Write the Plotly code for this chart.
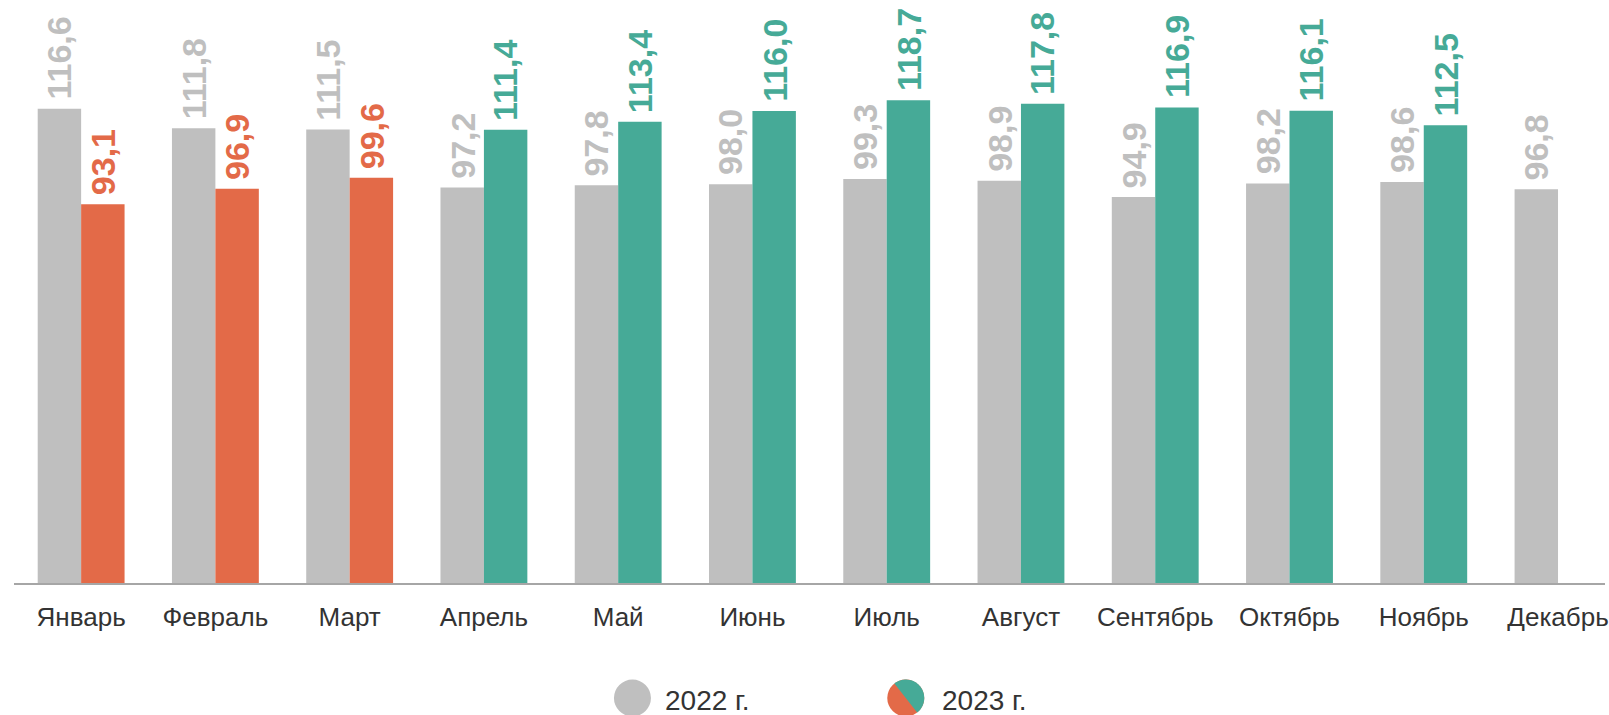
import math
import plotly.graph_objects as go

months = ["Январь", "Февраль", "Март", "Апрель", "Май", "Июнь", "Июль",
          "Август", "Сентябрь", "Октябрь", "Ноябрь", "Декабрь"]
values_2022 = [116.6, 111.8, 111.5, 97.2, 97.8, 98.0, 99.3, 98.9, 94.9, 98.2, 98.6, 96.8]
values_2023 = [93.1, 96.9, 99.6, 111.4, 113.4, 116.0, 118.7, 117.8, 116.9, 116.1, 112.5, None]
series_names = ["2022 г.", "2023 г."]

GRAY = "#BFBFBF"
ORANGE = "#E36A48"
TEAL = "#46AA97"
TEXT = "#333333"
FONT = "Liberation Sans, Arial, sans-serif"

W, H = 1609, 715
ML, MR, MT, MB = 14, 0, 0, 132
PW, PH = W - ML - MR, H - MT - MB
CAT = 134.6  # px per category
PX_PER_UNIT = 4.068
BARGAP = 0.353


def fmt(v):
    return f"{v:.1f}".replace(".", ",")


def color_2023(v):
    return ORANGE if v < 100 else TEAL


colors_2023 = [color_2023(v) if v is not None else TEAL for v in values_2023]

fig = go.Figure()
fig.add_trace(go.Bar(x=months, y=values_2022, name=series_names[0],
                     marker=dict(color=GRAY, line=dict(width=0)), showlegend=False))
fig.add_trace(go.Bar(x=months, y=values_2023, name=series_names[1],
                     marker=dict(color=colors_2023, line=dict(width=0)), showlegend=False))

half = CAT * (1 - BARGAP) / 4
annotations = []
for m, v in zip(months, values_2022):
    annotations.append(dict(x=m, y=v, xref="x", yref="y", text=fmt(v), showarrow=False,
                            textangle=-90, xanchor="center", yanchor="bottom",
                            xshift=-half, yshift=7,
                            font=dict(family=FONT, size=34, color=GRAY, weight="bold")))
for m, v in zip(months, values_2023):
    if v is None:
        continue
    annotations.append(dict(x=m, y=v, xref="x", yref="y", text=fmt(v), showarrow=False,
                            textangle=-90, xanchor="center", yanchor="bottom",
                            xshift=half, yshift=7,
                            font=dict(family=FONT, size=34, color=color_2023(v), weight="bold")))


def px_to_paper(px, py):
    return (px - ML) / PW, (H - MB - py) / PH


shapes = []
# legend: gray circle
r = 18.5
gx, gy = px_to_paper(634, 698)
shapes.append(dict(type="circle", xref="paper", yref="paper", xsizemode="pixel", ysizemode="pixel",
                   xanchor=gx, yanchor=gy, x0=-r, x1=r, y0=-r, y1=r,
                   fillcolor=GRAY, line=dict(width=0)))
# legend: split circle
cx, cy = px_to_paper(908, 698)
shapes.append(dict(type="circle", xref="paper", yref="paper", xsizemode="pixel", ysizemode="pixel",
                   xanchor=cx, yanchor=cy, x0=-r, x1=r, y0=-r, y1=r,
                   fillcolor=ORANGE, line=dict(width=0)))
pts = []
for i in range(0, 181, 5):
    a = math.radians(128 - i)
    pts.append((r * math.cos(a), r * math.sin(a)))
path = "M " + " L ".join(f"{x:.2f},{y:.2f}" for x, y in pts) + " Z"
shapes.append(dict(type="path", xref="paper", yref="paper", xsizemode="pixel", ysizemode="pixel",
                   xanchor=cx, yanchor=cy, path=path, fillcolor=TEAL, line=dict(width=0)))

for name, lx in zip(series_names, [665, 942]):
    tx, ty = px_to_paper(lx, 700)
    annotations.append(dict(x=tx, y=ty, xref="paper", yref="paper", text=name, showarrow=False,
                            xanchor="left", yanchor="middle",
                            font=dict(family=FONT, size=28, color=TEXT)))

fig.update_layout(
    width=W, height=H,
    margin=dict(l=ML, r=MR, t=MT, b=MB, pad=0),
    paper_bgcolor="white", plot_bgcolor="white",
    barmode="group", bargap=BARGAP, bargroupgap=0,
    showlegend=False,
    annotations=annotations,
    shapes=shapes,
    xaxis=dict(range=[-0.5, -0.5 + PW / CAT], showgrid=False, zeroline=False,
               showline=True, linecolor="#A6A6A6", linewidth=2,
               ticks="", ticklabelstandoff=10,
               tickfont=dict(family=FONT, size=26, color=TEXT)),
    yaxis=dict(range=[0, PH / PX_PER_UNIT], visible=False, showgrid=False, zeroline=False),
)

fig.write_html("out.html", config={"displayModeBar": False},
               post_script="document.body.style.margin='0';document.body.style.overflow='hidden';")
